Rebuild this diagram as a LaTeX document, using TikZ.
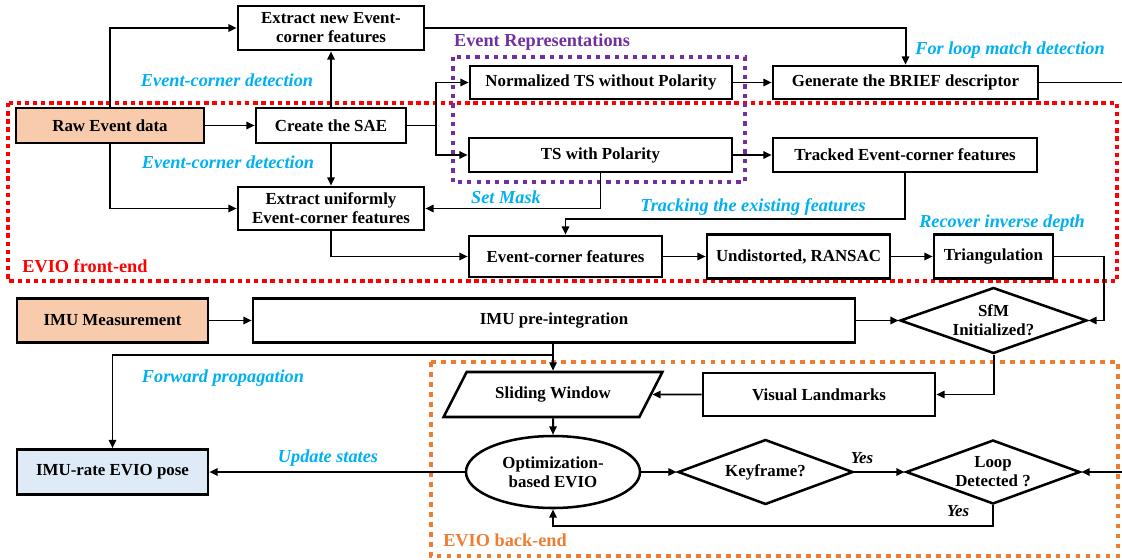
\documentclass[tikz,border=0pt]{standalone}
\usepackage{fontspec}
\setmainfont{Liberation Serif}
\usetikzlibrary{arrows.meta,shapes.geometric}
\definecolor{lblue}{HTML}{00B0F0}
\definecolor{fred}{HTML}{FF0000}
\definecolor{fpurple}{HTML}{7030A0}
\definecolor{forange}{HTML}{ED7D31}
\definecolor{peach}{HTML}{F8CBAD}
\definecolor{paleblue}{HTML}{DEEBF7}
\newcommand{\pxu}{0.025cm}
\begin{document}
\begin{tikzpicture}[x=0.025cm,y=-0.025cm,
  every node/.style={font=\fontsize{12}{13.5}\selectfont\bfseries},
  box/.style={draw,line width=1.8pt,inner sep=0pt,align=center},
  conn/.style={line width=1.4pt,-{Triangle[length=6pt,width=5.2pt]}},
  plain/.style={line width=1.4pt},
  lab/.style={font=\fontsize{13}{15}\selectfont\bfseries\itshape,text=lblue,inner sep=0pt},
  ttl/.style={font=\fontsize{13}{15}\selectfont\bfseries,inner sep=0pt},
  yes/.style={font=\fontsize{12}{14}\selectfont\bfseries\itshape,inner sep=0pt},
  frame/.style={line width=3.1pt,dash pattern=on 3.1pt off 2.7pt},
  framep/.style={line width=2.8pt,dash pattern=on 3pt off 3.6pt},
  frameo/.style={line width=3.1pt,dash pattern=on 3.4pt off 3.7pt},
]
\useasboundingbox (0,0) rectangle (1122,559);

% dotted frames
\draw[frame,fred] (8,103) rectangle (1117,281);
\draw[framep,fpurple] (453,57) rectangle (745,182);
\draw[frameo,forange] (431,362) rectangle (1118,556);

% nodes
\node[box,minimum width=186*\pxu,minimum height=44*\pxu] (en) at (331,28) {Extract new Event-\\corner features};
\node[box,fill=peach,minimum width=188*\pxu,minimum height=35*\pxu] (raw) at (110,125.5) {Raw Event data};
\node[box,minimum width=150*\pxu,minimum height=35*\pxu] (sae) at (331,125.5) {Create the SAE};
\node[box,minimum width=186*\pxu,minimum height=43*\pxu] (eu) at (331,208.5) {Extract uniformly\\Event-corner features};
\node[box,minimum width=262*\pxu,minimum height=33*\pxu] (nts) at (601,82.5) {Normalized TS without Polarity};
\node[box,minimum width=263*\pxu,minimum height=34*\pxu] (tsp) at (600.5,155) {TS with Polarity};
\node[box,minimum width=265*\pxu,minimum height=33*\pxu] (brief) at (905.5,82.5) {Generate the BRIEF descriptor};
\node[box,minimum width=264*\pxu,minimum height=34*\pxu] (tracked) at (905,155) {Tracked Event-corner features};
\node[box,minimum width=193*\pxu,minimum height=41*\pxu] (ecf) at (565.5,256.5) {Event-corner features};
\node[box,minimum width=183*\pxu,minimum height=44*\pxu] (und) at (798.5,256.5) {Undistorted, RANSAC};
\node[box,minimum width=119*\pxu,minimum height=44*\pxu] (tri) at (993.5,256.5) {Triangulation};
\node[box,fill=peach,minimum width=191*\pxu,minimum height=44*\pxu] (imu) at (112.5,320.5) {IMU Measurement};
\node[box,minimum width=602*\pxu,minimum height=44*\pxu] (pre) at (554,320.5) {IMU pre-integration};
\node[box,diamond,shape aspect=2.8,minimum width=187*\pxu,minimum height=66*\pxu] (sfm) at (993.5,320.5) {SfM\\Initialized?};
\node[box,trapezium,trapezium left angle=45,trapezium right angle=135,trapezium stretches=true,minimum width=219*\pxu,minimum height=45*\pxu] (sw) at (553,394.5) {Sliding Window};
\node[box,minimum width=232*\pxu,minimum height=43*\pxu] (vl) at (819,394.5) {Visual Landmarks};
\node[box,ellipse,minimum width=174*\pxu,minimum height=72*\pxu] (opt) at (553,472) {Optimization-\\based EVIO};
\node[box,diamond,shape aspect=2.7,minimum width=175*\pxu,minimum height=65*\pxu] (kf) at (765.5,472) {Keyframe?};
\node[box,diamond,shape aspect=2.7,minimum width=174*\pxu,minimum height=64*\pxu] (loop) at (993,472) {Loop\\Detected ?};
\node[box,fill=paleblue,minimum width=191*\pxu,minimum height=45*\pxu] (pose) at (112.5,472) {IMU-rate EVIO pose};

% free ends at the right border
\coordinate (re1) at (1122,82.5);
\coordinate (re2) at (1122,472);
\coordinate (split) at (436,125.5);

% connectors
\draw[conn] (raw.north) |- (en.west);
\draw[conn] (raw.east) -- (sae.west);
\draw[conn] (raw.south) |- (eu.west);
\draw[conn] (sae.north) -- (en.south);
\draw[conn] (sae.south) -- (eu.north);
\draw[plain] (sae.east) -- (split);
\draw[conn] (split) |- (nts.west);
\draw[conn] (split) |- (tsp.west);
\draw[conn] (en.east) -| (brief.north);
\draw[conn] (nts.east) -- (brief.west);
\draw[plain] (brief.east) -- (re1);
\draw[conn] (tsp.east) -- (tracked.west);
\draw[conn] (tsp.south) |- (eu.east);
\draw[conn] (tracked.south) -- ++(0,46) -| (ecf.north);
\draw[conn] (eu.south) |- (ecf.west);
\draw[conn] (ecf.east) -- (und.west);
\draw[conn] (und.east) -- (tri.west);
\draw[conn] (tri.east) -- ++(50,0) |- (sfm.east);
\draw[conn] (imu.east) -- (pre.west);
\draw[conn] (pre.east) -- (sfm.west);
\draw[conn] (sfm.south) |- (vl.east);
\draw[conn] (vl.west) -- (sw);
\draw[conn] (sw.north |- pre.south) -- (sw.north);
\draw[conn] (sw.north |- pre.south) -- ++(0,11) -| (pose.north);
\draw[conn] (sw.south) -- (opt.north);
\draw[conn] (opt.west) -- (pose.east);
\draw[conn] (opt.east) -- (kf.west);
\draw[conn] (kf.east) -- (loop.west);
\draw[conn] (loop.south) -- ++(0,21) -| (opt.south);
\draw[conn] (re2) -- (loop.east);

% labels
\node[lab] (l1) at (227,80) {Event-corner detection};
\node[lab] (l2) at (228,162) {Event-corner detection};
\node[ttl,text=fpurple] (l3) at (542,42) {Event Representations};
\node[lab] (l4) at (1010,50) {For loop match detection};
\node[lab] (l5) at (506,197) {Set Mask};
\node[lab] (l6) at (753,207) {Tracking the existing features};
\node[lab] (l7) at (1002,223) {Recover inverse depth};
\node[ttl,text=fred] (l8) at (85,266) {EVIO front-end};
\node[lab] (l9) at (223,378) {Forward propagation};
\node[lab] (l10) at (328,458) {Update states};
\node[ttl,text=forange] (l11) at (505,540) {EVIO back-end};
\node[yes] (y1) at (862,458) {Yes};
\node[yes] (y2) at (958,511) {Yes};
\end{tikzpicture}
\end{document}
